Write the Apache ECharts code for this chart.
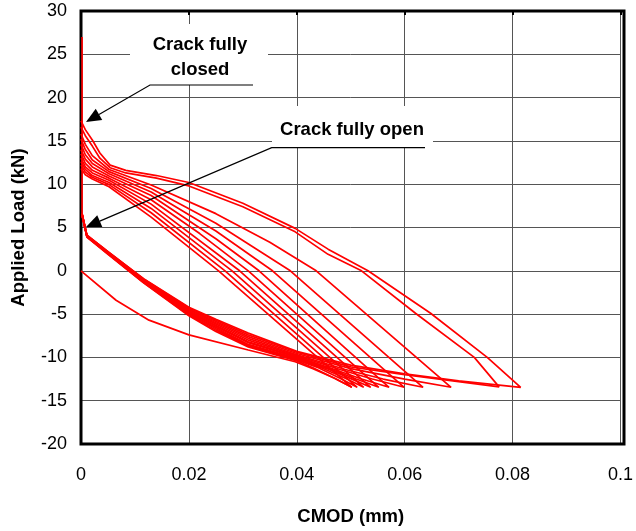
<!DOCTYPE html>
<html>
<head>
<meta charset="utf-8">
<script src="https://cdn.jsdelivr.net/npm/echarts@6/dist/echarts.min.js"></script>
<style>
html,body{margin:0;padding:0;background:#fff;}
#chart{width:636px;height:531px;}
</style>
</head>
<body>
<div id="chart"></div>
<script>
// ---- data (CMOD in mm, load in kN) ----
const xTickLabels = ['0', '0.02', '0.04', '0.06', '0.08', '0.1'];
const yTickLabels = ['-20', '-15', '-10', '-5', '0', '5', '10', '15', '20', '25', '30'];

const initialCurve = [[0,0],[0.0065,-3.4],[0.0126,-5.7],[0.02,-7.4],[0.031,-9.15],[0.0397,-10.5],[0.043,-11.3],[0.047,-12.4],[0.0502,-13.45]];
const closedLine = [[0.0002,6.5],[0.0002,27.0]];

const loop1 = [[0,11.8],[0.0008,11.1],[0.0021,10.6],[0.0052,9.7],[0.013,6.2],[0.0255,0],[0.0502,-13.45],
  [0.047,-12.4],[0.043,-11.2],[0.04,-10.4],[0.031,-8.8],[0.025,-7.0],[0.02,-5.2],[0.0116,-1.4],[0.005,1.9],[0.0011,3.9],[0.0002,6.4]];
const loop2 = [[0,12.2],[0.0008,11.4],[0.0021,10.8],[0.0052,9.95],[0.013,6.7],[0.0267,0],[0.0512,-13.45],
  [0.048,-12.4],[0.044,-11.2],[0.04,-10.3],[0.031,-8.7],[0.025,-6.85],[0.02,-5.1],[0.0116,-1.35],[0.005,1.95],[0.0011,3.9],[0.0002,6.4]];
const loop3 = [[0,12.6],[0.0008,11.7],[0.0021,11.0],[0.0052,10.2],[0.013,7.2],[0.028,0],[0.0524,-13.45],
  [0.049,-12.4],[0.045,-11.3],[0.04,-10.2],[0.031,-8.6],[0.025,-6.7],[0.02,-5.0],[0.0116,-1.3],[0.005,2.0],[0.0011,3.95],[0.0002,6.45]];
const loop4 = [[0,13.0],[0.0008,12.0],[0.0021,11.3],[0.0052,10.45],[0.013,7.7],[0.0294,0],[0.0537,-13.45],
  [0.05,-12.45],[0.046,-11.4],[0.04,-10.1],[0.031,-8.5],[0.025,-6.55],[0.02,-4.9],[0.0116,-1.25],[0.005,2.0],[0.0011,3.95],[0.0002,6.45]];
const loop5 = [[0,13.5],[0.0008,12.4],[0.0021,11.6],[0.0052,10.7],[0.013,8.2],[0.022,4.3],[0.031,0],[0.0552,-13.45],
  [0.051,-12.5],[0.046,-11.3],[0.04,-10.0],[0.031,-8.3],[0.025,-6.4],[0.02,-4.8],[0.0116,-1.2],[0.005,2.05],[0.0011,4.0],[0.0002,6.5]];
const loop6 = [[0,14.0],[0.0008,12.9],[0.0021,12.0],[0.0052,10.95],[0.013,8.7],[0.025,3.7],[0.033,0],[0.0571,-13.45],
  [0.052,-12.5],[0.047,-11.4],[0.04,-9.9],[0.031,-8.2],[0.025,-6.3],[0.02,-4.7],[0.0116,-1.15],[0.005,2.05],[0.0011,4.0],[0.0002,6.5]];
const loop7 = [[0,14.6],[0.0008,13.4],[0.0021,12.4],[0.0052,11.2],[0.013,9.1],[0.025,4.6],[0.0355,0],[0.0599,-13.45],
  [0.054,-12.5],[0.048,-11.4],[0.04,-9.8],[0.031,-8.0],[0.025,-6.15],[0.02,-4.6],[0.0116,-1.1],[0.005,2.1],[0.0011,4.0],[0.0002,6.5]];
const loop8 = [[0,15.2],[0.0008,14.0],[0.0021,12.8],[0.0052,11.45],[0.013,9.5],[0.025,5.5],[0.0388,0],[0.0634,-13.45],
  [0.056,-12.5],[0.049,-11.4],[0.04,-9.7],[0.031,-7.8],[0.025,-6.0],[0.02,-4.5],[0.0116,-1.05],[0.005,2.1],[0.0011,4.05],[0.0002,6.55]];
const loop9 = [[0,15.8],[0.0008,14.6],[0.0021,13.3],[0.0052,11.7],[0.013,9.9],[0.025,6.6],[0.035,3.3],[0.0436,0],[0.0686,-13.45],
  [0.06,-12.5],[0.05,-11.3],[0.04,-9.55],[0.031,-7.6],[0.025,-5.85],[0.02,-4.4],[0.0116,-1.0],[0.005,2.15],[0.0011,4.05],[0.0002,6.55]];
const loop10 = [[0,16.6],[0.0008,15.6],[0.0021,14.4],[0.0035,13.0],[0.0054,11.9],[0.0083,11.3],[0.014,10.7],[0.02,9.8],[0.03,7.4],[0.0397,4.5],[0.0458,1.9],[0.052,0],[0.062,-4.9],[0.0729,-10.0],[0.0775,-13.4],
  [0.07,-12.8],[0.06,-12.0],[0.05,-11.1],[0.04,-9.4],[0.031,-7.4],[0.025,-5.7],[0.02,-4.3],[0.0116,-0.95],[0.005,2.2],[0.0011,4.1],[0.0002,6.6]];
const loop11 = [[0,17.3],[0.0008,16.3],[0.0021,15.1],[0.0035,13.6],[0.0054,12.2],[0.0083,11.6],[0.014,11.0],[0.02,10.2],[0.03,7.8],[0.0397,4.9],[0.0458,2.5],[0.0532,0],[0.0648,-4.9],[0.0753,-10.0],[0.0815,-13.46],
  [0.07,-12.7],[0.06,-11.9],[0.05,-10.9],[0.04,-9.3],[0.031,-7.2],[0.025,-5.6],[0.02,-4.2],[0.0116,-0.9],[0.005,2.2],[0.0011,4.1],[0.0002,6.6]];

const allCurves = [initialCurve, closedLine, loop1, loop2, loop3, loop4, loop5, loop6, loop7, loop8, loop9, loop10, loop11];

// ---- layout ----
const G = {left: 81, right: 12, top: 11, bottom: 87};
const W = 636, H = 531;
const FONT = 'Liberation Sans, Arial, sans-serif';

const chart = echarts.init(document.getElementById('chart'), null, {renderer: 'canvas'});

function arrow(x1, y1, x2, y2, len, hw) {
  const dx = x2 - x1, dy = y2 - y1, L = Math.hypot(dx, dy);
  const ux = dx / L, uy = dy / L;
  const bx = x2 - ux * len, by = y2 - uy * len;
  return {
    base: [bx, by],
    tri: [[x2, y2], [bx - uy * hw, by + ux * hw], [bx + uy * hw, by - ux * hw]]
  };
}
const a1 = arrow(150, 85, 86, 122, 15, 6.5);
const a2 = arrow(271.7, 147.7, 86, 227, 15, 6.5);

const plotW = W - G.left - G.right, plotH = H - G.top - G.bottom;

const option = {
  animation: false,
  backgroundColor: '#fff',
  grid: {left: G.left, right: G.right, top: G.top, bottom: G.bottom, containLabel: false},
  xAxis: [{
    type: 'value', min: 0, max: 0.1, interval: 0.02, position: 'bottom',
    axisLine: {show: false}, axisTick: {show: false},
    splitLine: {show: true, lineStyle: {color: '#555', width: 1}},
    axisLabel: {margin: 22, fontSize: 18, color: '#000', fontFamily: FONT,
      formatter: (v) => xTickLabels[Math.round(v / 0.02)]},
    name: 'CMOD (mm)', nameLocation: 'middle', nameGap: 63,
    nameTextStyle: {fontSize: 18.5, fontWeight: 'bold', color: '#000', fontFamily: FONT}
  }, {
    type: 'value', min: 0, max: 0.1, interval: 0.02, position: 'top',
    axisLine: {show: true, onZero: true, lineStyle: {color: '#000', width: 2}},
    axisTick: {show: true, inside: true, length: 4, lineStyle: {color: '#000', width: 2}},
    axisLabel: {show: false}, splitLine: {show: false}
  }],
  yAxis: {
    type: 'value', min: -20, max: 30, interval: 5,
    axisLine: {show: false}, axisTick: {show: false},
    splitLine: {show: true, lineStyle: {color: '#555', width: 1}},
    axisLabel: {margin: 14, fontSize: 18, color: '#000', fontFamily: FONT,
      formatter: (v) => yTickLabels[Math.round((v + 20) / 5)]},
    name: 'Applied Load (kN)', nameLocation: 'middle', nameGap: 53,
    nameTextStyle: {fontSize: 18.5, fontWeight: 'bold', color: '#000', fontFamily: FONT}
  },
  series: allCurves.map((d) => ({
    type: 'line', data: d, showSymbol: false, symbol: 'none', xAxisIndex: 0,
    lineStyle: {color: '#ff0000', width: 1.7}, z: 5, silent: true
  })),
  graphic: [
    {type: 'rect', z: 3, shape: {x: G.left, y: G.top, width: plotW, height: plotH},
      style: {fill: null, stroke: '#000', lineWidth: 3}},
    // annotation: crack fully closed
    {type: 'rect', z: 20, shape: {x: 130, y: 24, width: 138, height: 61}, style: {fill: '#fff', stroke: null}},
    {type: 'text', z: 21, style: {text: 'Crack fully', x: 200, y: 45, textAlign: 'center', textVerticalAlign: 'middle',
      font: 'bold 18.5px ' + FONT, fill: '#000'}},
    {type: 'text', z: 21, style: {text: 'closed', x: 200, y: 70, textAlign: 'center', textVerticalAlign: 'middle',
      font: 'bold 18.5px ' + FONT, fill: '#000'}},
    {type: 'polyline', z: 21, shape: {points: [[253, 85], [150, 85], a1.base]}, style: {stroke: '#000', lineWidth: 1.2, fill: null}},
    {type: 'polygon', z: 21, shape: {points: a1.tri}, style: {fill: '#000', stroke: null}},
    // annotation: crack fully open
    {type: 'rect', z: 20, shape: {x: 272, y: 106, width: 161, height: 41}, style: {fill: '#fff', stroke: null}},
    {type: 'text', z: 21, style: {text: 'Crack fully open', x: 352, y: 130, textAlign: 'center', textVerticalAlign: 'middle',
      font: 'bold 18.5px ' + FONT, fill: '#000'}},
    {type: 'polyline', z: 21, shape: {points: [[425, 147.7], [271.7, 147.7], a2.base]}, style: {stroke: '#000', lineWidth: 1.2, fill: null}},
    {type: 'polygon', z: 21, shape: {points: a2.tri}, style: {fill: '#000', stroke: null}}
  ]
};
chart.setOption(option);
</script>
</body>
</html>
